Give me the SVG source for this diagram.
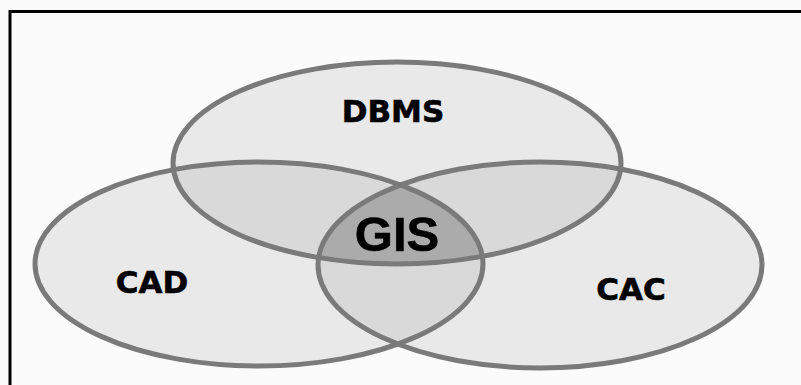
<svg xmlns="http://www.w3.org/2000/svg" width="801" height="385" viewBox="0 0 801 385">
  <style>
    .set { fill: #e9e9e9; }
    .pair { fill: #d9d9d9; }
    .core { fill: #ababab; }
    .ring { fill: none; stroke: #7a7a7a; stroke-width: 5; }
    .label { font-family: "DejaVu Sans", Verdana, sans-serif; font-weight: bold; font-size: 31px; fill: #000; stroke: #000; stroke-width: 0.6; text-anchor: middle; }
    .core-label { font-family: "Liberation Sans", Arial, sans-serif; font-weight: bold; font-size: 49px; fill: #000; stroke: #000; stroke-width: 0.6; text-anchor: middle; }
  </style>
  <defs>
    <ellipse id="e-dbms" cx="397" cy="163" rx="224" ry="101"/>
    <ellipse id="e-cad" cx="259" cy="264" rx="224" ry="102"/>
    <ellipse id="e-cac" cx="540" cy="265" rx="222" ry="103"/>
    <clipPath id="clip-dbms"><use href="#e-dbms"/></clipPath>
    <clipPath id="clip-cad"><use href="#e-cad"/></clipPath>
    <clipPath id="clip-cac"><use href="#e-cac"/></clipPath>
  </defs>

  <rect width="801" height="385" fill="#fbfbfb"/>
  <!-- frame, open on the right and bottom -->
  <rect x="10" y="11.5" width="820" height="400" fill="none" stroke="#000" stroke-width="3"/>

  <!-- region fills -->
  <g id="fills">
    <use href="#e-dbms" class="set"/>
    <use href="#e-cad" class="set"/>
    <use href="#e-cac" class="set"/>
    <g clip-path="url(#clip-dbms)">
      <use href="#e-cad" class="pair"/>
      <use href="#e-cac" class="pair"/>
    </g>
    <g clip-path="url(#clip-cad)">
      <use href="#e-cac" class="pair"/>
      <g clip-path="url(#clip-dbms)">
        <use href="#e-cac" class="core"/>
      </g>
    </g>
  </g>

  <g id="dbms">
    <use href="#e-dbms" class="ring"/>
    <text class="label" x="393" y="122">DBMS</text>
  </g>
  <g id="cad">
    <use href="#e-cad" class="ring"/>
    <text class="label" x="152" y="293">CAD</text>
  </g>
  <g id="cac">
    <use href="#e-cac" class="ring"/>
    <text class="label" x="631" y="300">CAC</text>
  </g>
  <g id="gis">
    <text class="core-label" x="397" y="251">GIS</text>
  </g>
</svg>
